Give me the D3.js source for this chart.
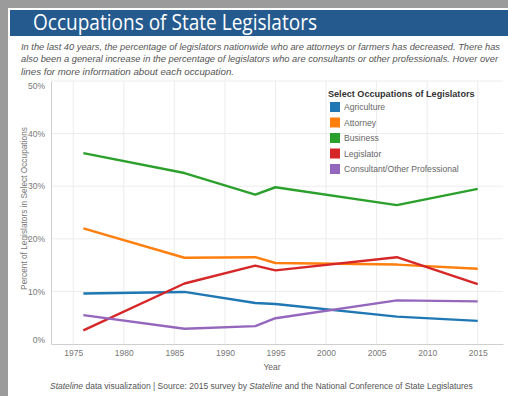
<!DOCTYPE html>
<html><head><meta charset="utf-8">
<script src="https://cdn.jsdelivr.net/npm/d3@7"></script>
<style>html,body{margin:0;padding:0;background:#fff;}svg{display:block;}</style>
</head><body>
<script>
const years = [1976, 1986, 1993, 1995, 2007, 2015];
const seriesNames = ["Agriculture", "Attorney", "Business", "Legislator", "Consultant/Other Professional"];
const agriculture = [9.6, 9.9, 7.8, 7.6, 5.2, 4.4];
const attorney = [22.0, 16.4, 16.5, 15.4, 15.1, 14.3];
const business = [36.3, 32.5, 28.4, 29.8, 26.4, 29.5];
const legislator = [2.6, 11.5, 14.9, 14.0, 16.5, 11.4];
const consultant = [5.5, 2.9, 3.4, 4.9, 8.3, 8.1];
const colors = ["#1f77b4", "#ff7f0e", "#2ca02c", "#d62728", "#9467bd"];
const yTicks = [0, 10, 20, 30, 40, 50];
const xTicks = [1975, 1980, 1985, 1990, 1995, 2000, 2005, 2010, 2015];
const allSeries = [agriculture, attorney, business, legislator, consultant];

(function(){
const W = 508, H = 396;
const svg = d3.select("body").append("svg").attr("width", W).attr("height", H);

// frame
svg.append("rect").attr("x",0).attr("y",0).attr("width",W).attr("height",H).attr("fill","#fff");
svg.append("rect").attr("x",0).attr("y",0).attr("width",W).attr("height",8).attr("fill","#9b9b9b");
svg.append("rect").attr("x",0).attr("y",0).attr("width",8).attr("height",H).attr("fill","#9b9b9b");
svg.append("rect").attr("x",10).attr("y",10).attr("width",W-10).attr("height",26).attr("fill","#245a8e");
svg.append("text").attr("x",33).attr("y",30).attr("fill","#fff")
  .attr("font-family","Open Sans, sans-serif").attr("font-size",21)
  .attr("textLength",284).attr("lengthAdjust","spacingAndGlyphs")
  .text("Occupations of State Legislators");

const sub = [
 "In the last 40 years, the percentage of legislators nationwide who are attorneys or farmers has decreased. There has",
 "also been a general increase in the percentage of legislators who are consultants or other professionals. Hover over",
 "lines for more information about each occupation."
];
const subLen = [479, 477, 213];
sub.forEach((s,i)=>{
  svg.append("text").attr("x",21).attr("y",50+i*12.3).attr("fill","#555")
   .attr("font-family","Liberation Sans, Arial, sans-serif").attr("font-size",9.3)
   .attr("font-style","italic")
   .attr("textLength",subLen[i]).attr("lengthAdjust","spacingAndGlyphs").text(s);
});

const pl = 51, pr = 503, pt = 81, pb = 344;
const x = d3.scaleLinear().domain([1972.8, 2017.5]).range([pl, pr]);
const y = d3.scaleLinear().domain([0, 50]).range([pb, pt]);

// gridlines
svg.append("g").selectAll("line").data(xTicks).join("line")
  .attr("x1", d=>x(d)).attr("x2", d=>x(d)).attr("y1", pt).attr("y2", pb)
  .attr("stroke","#ececec").attr("stroke-width",1);
svg.append("g").selectAll("line").data(yTicks.filter(d=>d>0)).join("line")
  .attr("x1", pl).attr("x2", pr).attr("y1", d=>y(d)).attr("y2", d=>y(d))
  .attr("stroke","#ececec").attr("stroke-width",1);

// axes
const yAxis = svg.append("g").attr("transform",`translate(${pl},0)`)
  .call(d3.axisLeft(y).tickValues(yTicks).tickSize(0).tickPadding(6).tickFormat(d=>d+"%"));
yAxis.select(".domain").attr("stroke","#cfcfcf");
yAxis.selectAll("text").attr("fill","#777").attr("font-family","Liberation Sans, Arial, sans-serif").attr("font-size",8.5)
  .attr("dy", d=> d===0 ? "-0.2em" : d===50 ? "0.9em" : "0.32em");

const xAxis = svg.append("g").attr("transform",`translate(0,${pb})`)
  .call(d3.axisBottom(x).tickValues(xTicks).tickSize(0).tickPadding(6).tickFormat(d3.format("d")));
xAxis.select(".domain").attr("stroke","#cfcfcf");
xAxis.selectAll("text").attr("fill","#777").attr("font-family","Liberation Sans, Arial, sans-serif").attr("font-size",8.5);

svg.append("text").attr("x", (pl+pr)/2 - 5).attr("y", 370).attr("text-anchor","middle")
  .attr("fill","#666").attr("font-family","Liberation Sans, Arial, sans-serif").attr("font-size",8.5).text("Year");
svg.append("text").attr("transform",`translate(27,${(pt+pb)/2-4}) rotate(-90)`).attr("text-anchor","middle")
  .attr("fill","#777").attr("font-family","Liberation Sans, Arial, sans-serif").attr("font-size",8.3)
  .text("Percent of Legislators in Select Occupations");

// lines
const line = d3.line().x((d,i)=>x(years[i])).y(d=>y(d));
svg.append("g").selectAll("path").data(allSeries).join("path")
  .attr("d", d=>line(d)).attr("fill","none")
  .attr("stroke",(d,i)=>colors[i]).attr("stroke-width",2.4).attr("stroke-linejoin","round");

// legend
const lg = svg.append("g").attr("transform","translate(329,0)");
lg.append("text").attr("x",-1).attr("y",97).attr("fill","#333").attr("font-weight","bold")
  .attr("font-family","Liberation Sans, Arial, sans-serif").attr("font-size",9.1)
  .text("Select Occupations of Legislators");
seriesNames.forEach((n,i)=>{
  const yy = 107 + i*15.5;
  lg.append("rect").attr("x",1).attr("y",yy-5).attr("width",10).attr("height",10).attr("fill",colors[i]);
  lg.append("text").attr("x",15).attr("y",yy+3.2).attr("fill","#666")
    .attr("font-family","Liberation Sans, Arial, sans-serif").attr("font-size",8.6).text(n);
});

// footer
const ft = svg.append("text").attr("x",50).attr("y",389).attr("fill","#555")
  .attr("font-family","Liberation Sans, Arial, sans-serif").attr("font-size",8.5);
ft.append("tspan").attr("font-style","italic").text("Stateline");
ft.append("tspan").text(" data visualization | Source: 2015 survey by ");
ft.append("tspan").attr("font-style","italic").text("Stateline");
ft.append("tspan").text(" and the National Conference of State Legislatures");
})();
</script>
</body></html>
